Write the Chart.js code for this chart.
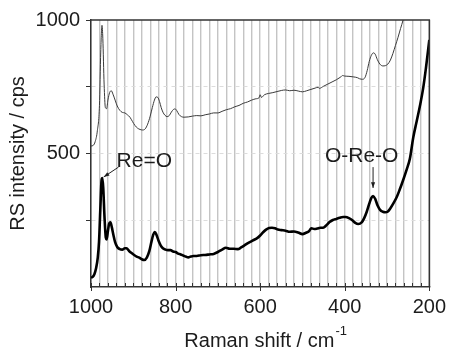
<!DOCTYPE html>
<html>
<head>
<meta charset="utf-8">
<script src="https://cdn.jsdelivr.net/npm/chart.js@4"></script>
<style>
  html, body { margin: 0; padding: 0; background: #fff; }
  canvas { display: block; }
</style>
</head>
<body>
<canvas id="raman-chart" width="454" height="349"></canvas>
<script>
// upper (thin) spectrum
var upperShift = [1000, 995, 990, 985, 980, 977, 974, 972, 969, 966, 963, 960, 956, 952, 948, 943, 938, 932, 926, 920,
  914, 908, 902, 896, 890, 884, 878, 872, 866, 860, 855, 850, 846, 842, 838, 834, 830, 825, 820, 815,
  810, 805, 801, 797, 792, 786, 780, 770, 760, 750, 740, 730, 720, 710, 700, 690, 680, 670, 660, 650,
  640, 630, 620, 610, 603, 600, 597, 590, 580, 570, 560, 550, 540, 530, 520, 510, 500, 490, 480, 470,
  463, 460, 450, 440, 430, 420, 410, 405, 400, 390, 380, 370, 365, 358, 352, 347, 342, 337, 332, 328,
  323, 317, 310, 304, 298, 292, 286, 280, 274, 268, 262, 256];
var upperCounts = [528, 530, 545, 585, 680, 880, 980, 930, 760, 672, 668, 700, 728, 735, 722, 700, 678, 662, 654, 652,
  645, 636, 620, 605, 595, 590, 588, 592, 610, 640, 672, 700, 712, 710, 695, 672, 655, 643, 638, 642,
  655, 665, 667, 660, 646, 638, 636, 637, 640, 642, 641, 645, 648, 652, 652, 658, 664, 668, 675, 680,
  688, 693, 700, 705, 708, 720, 710, 720, 725, 728, 732, 736, 738, 735, 737, 734, 731, 735, 740, 745,
  748, 744, 752, 760, 768, 776, 786, 792, 790, 789, 787, 784, 780, 778, 785, 810, 845, 868, 877, 872,
  852, 835, 828, 829, 835, 850, 875, 905, 935, 968, 1000, 1040];

// lower (thick) spectrum
var lowerShift = [1000, 996, 992, 988, 984, 981, 978, 975, 973, 971, 968, 965, 963, 960, 957, 954, 951, 947, 943, 938,
  932, 926, 920, 916, 910, 904, 898, 892, 886, 880, 874, 868, 862, 857, 853, 849, 845, 840, 835, 830,
  824, 818, 812, 806, 800, 794, 788, 782, 776, 770, 764, 758, 750, 740, 730, 720, 710, 700, 690, 681,
  672, 662, 653, 645, 637, 630, 622, 614, 607, 600, 593, 586, 579, 572, 565, 558, 550, 540, 530, 520,
  510, 500, 492, 484, 479, 472, 465, 458, 451, 444, 436, 428, 420, 412, 404, 398, 390, 382, 375, 368,
  360, 354, 348, 342, 337, 333, 328, 322, 316, 310, 304, 298, 292, 285, 277, 270, 262, 254, 246, 238,
  230, 222, 215, 208, 200];
var lowerCounts = [35, 38, 48, 70, 110, 170, 290, 400, 408, 370, 260, 185, 178, 210, 238, 242, 225, 195, 168, 150,
  142, 140, 145, 145, 135, 127, 120, 114, 110, 104, 101, 110, 135, 170, 195, 206, 195, 172, 155, 145,
  140, 138, 138, 133, 131, 125, 122, 118, 114, 111, 114, 116, 116, 119, 120, 122, 124, 131, 140, 147,
  143, 143, 142, 148, 156, 163, 170, 177, 183, 193, 205, 215, 221, 222, 220, 215, 213, 211, 207, 208,
  204, 198, 203, 210, 220, 217, 219, 222, 222, 230, 243, 251, 255, 259, 262, 262, 258, 250, 240, 236,
  242, 258, 282, 312, 334, 341, 330, 304, 288, 282, 280, 283, 295, 313, 337, 365, 400, 438, 480, 560,
  620, 680, 740, 820, 925];

var xTickLabels = [1000, 800, 600, 400, 200];
var yTickLabels = [500, 1000];

// peak labels: text position, arrow start, arrow tip (data coordinates)
var peakNotes = [
  { text: 'Re=O', x: 874, y: 449, from: [935, 449], to: [970, 412] },
  { text: 'O-Re-O', x: 360, y: 468, from: [333, 449], to: [333, 371] }
];

var FONT = '"Liberation Sans", Arial, sans-serif';
var INK = '#1c1c1c';

function toPoints(xs, ys) {
  return xs.map(function(x, i) { return { x: x, y: ys[i] }; });
}

function arrow(ctx, x1, y1, x2, y2) {
  var a = Math.atan2(y2 - y1, x2 - x1), h = 6;
  ctx.beginPath();
  ctx.moveTo(x1, y1);
  ctx.lineTo(x2, y2);
  ctx.stroke();
  ctx.beginPath();
  ctx.moveTo(x2, y2);
  ctx.lineTo(x2 - h * Math.cos(a - 0.35), y2 - h * Math.sin(a - 0.35));
  ctx.lineTo(x2 - h * Math.cos(a + 0.35), y2 - h * Math.sin(a + 0.35));
  ctx.closePath();
  ctx.fill();
}

var decor = {
  id: 'decor',
  afterDraw: function(chart) {
    var ctx = chart.ctx, a = chart.chartArea;
    var xs = chart.scales.x, ys = chart.scales.y;
    ctx.save();

    // frame top and right
    ctx.strokeStyle = '#333';
    ctx.lineWidth = 1.5;
    ctx.beginPath();
    ctx.moveTo(a.left, a.top);
    ctx.lineTo(a.right, a.top);
    ctx.lineTo(a.right, a.bottom);
    ctx.stroke();

    // inward minor ticks on the shift axis, major ones poke out
    ctx.lineWidth = 1;
    for (var v = 200; v <= 1000; v += 20) {
      var px = Math.round(xs.getPixelForValue(v)) + 0.5;
      ctx.beginPath();
      ctx.moveTo(px, a.bottom - 4);
      ctx.lineTo(px, a.bottom + (v % 200 === 0 ? 4 : 0));
      ctx.stroke();
    }

    // axis title with superscript
    ctx.fillStyle = INK;
    ctx.textBaseline = 'alphabetic';
    ctx.textAlign = 'left';
    var main = 'Raman shift / cm';
    ctx.font = '20px ' + FONT;
    var w1 = ctx.measureText(main).width;
    ctx.font = '13px ' + FONT;
    var w2 = ctx.measureText('-1').width;
    var sx = (a.left + a.right) / 2 - (w1 + w2) / 2 + 5;
    ctx.font = '20px ' + FONT;
    ctx.fillText(main, sx, 347);
    ctx.font = '13px ' + FONT;
    ctx.fillText('-1', sx + w1 + 1, 335);

    // peak annotations
    ctx.font = '21px ' + FONT;
    ctx.textAlign = 'center';
    ctx.strokeStyle = '#222';
    ctx.fillStyle = INK;
    ctx.lineWidth = 1;
    peakNotes.forEach(function(n) {
      ctx.fillText(n.text, xs.getPixelForValue(n.x), ys.getPixelForValue(n.y));
      arrow(ctx,
        xs.getPixelForValue(n.from[0]), ys.getPixelForValue(n.from[1]),
        xs.getPixelForValue(n.to[0]), ys.getPixelForValue(n.to[1]));
    });
    ctx.restore();
  }
};

new Chart(document.getElementById('raman-chart'), {
  type: 'line',
  data: {
    datasets: [
      {
        data: toPoints(upperShift, upperCounts),
        borderColor: '#3a3a3a',
        borderWidth: 1,
        pointRadius: 0,
        cubicInterpolationMode: 'monotone'
      },
      {
        data: toPoints(lowerShift, lowerCounts),
        borderColor: '#000',
        borderWidth: 2.6,
        pointRadius: 0,
        cubicInterpolationMode: 'monotone'
      }
    ]
  },
  options: {
    responsive: false,
    animation: false,
    devicePixelRatio: 1,
    layout: { padding: { top: 20, right: 19, left: 0, bottom: 0 } },
    plugins: {
      legend: { display: false },
      tooltip: { enabled: false }
    },
    scales: {
      x: {
        type: 'linear',
        reverse: true,
        min: 200,
        max: 1000,
        afterFit: function(s) { s.height = 62; },
        grid: { color: '#c4c4c4', lineWidth: 1.4, drawTicks: false },
        border: { color: '#333', width: 1.5 },
        ticks: {
          stepSize: 20,
          autoSkip: false,
          maxRotation: 0,
          padding: 8,
          color: INK,
          font: { family: FONT, size: 20 },
          callback: function(v) { return xTickLabels.indexOf(v) >= 0 ? String(v) : ''; }
        }
      },
      y: {
        min: 0,
        max: 1000,
        afterFit: function(s) { s.width = 91; },
        grid: {
          color: function(c) { return (c.tick.value === 0 || c.tick.value === 1000) ? 'rgba(0,0,0,0)' : '#dcdcdc'; },
          tickColor: function(c) { return c.tick.value === 0 ? 'rgba(0,0,0,0)' : '#333'; },
          lineWidth: 1,
          tickLength: 5
        },
        border: { color: '#333', width: 1.5, dash: [4, 4] },
        ticks: {
          stepSize: 250,
          padding: 6,
          color: INK,
          font: { family: FONT, size: 20 },
          callback: function(v) { return yTickLabels.indexOf(v) >= 0 ? String(v) : ''; }
        },
        title: {
          display: true,
          text: 'RS intensity / cps',
          color: INK,
          font: { family: FONT, size: 20 },
          padding: { top: 6, bottom: 0 }
        }
      }
    }
  },
  plugins: [decor]
});
</script>
</body>
</html>
